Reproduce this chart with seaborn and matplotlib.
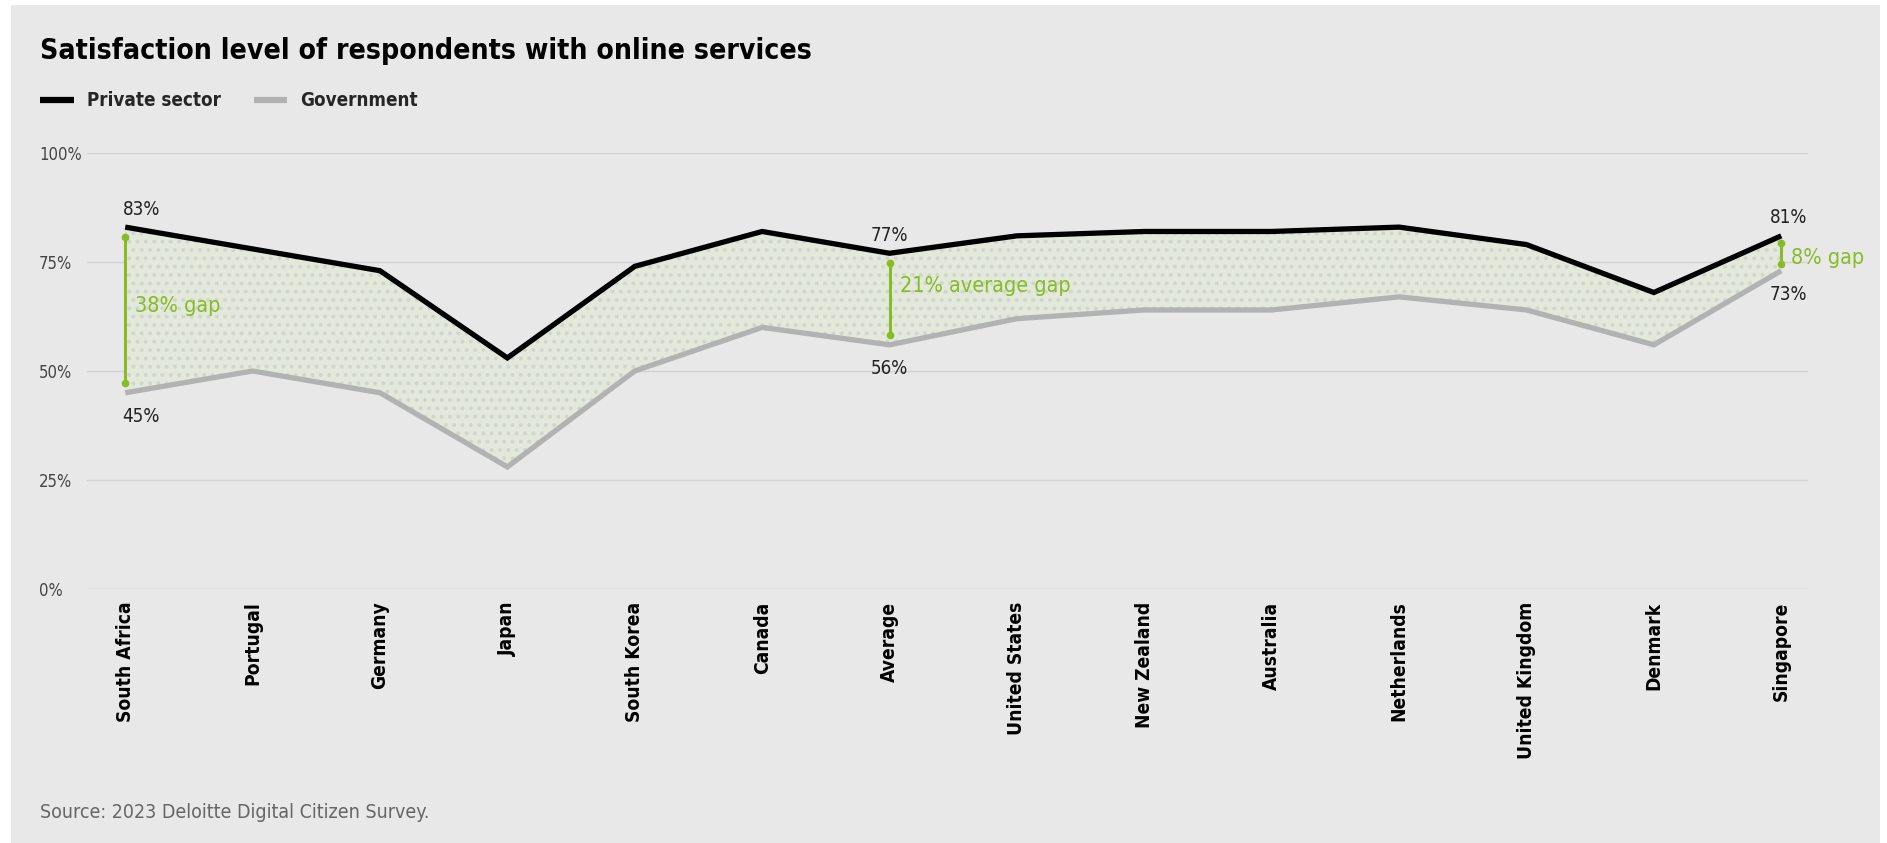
import numpy as np
import pandas as pd
import matplotlib
matplotlib.use("Agg")
import matplotlib.pyplot as plt
from matplotlib import font_manager
from matplotlib.lines import Line2D
from matplotlib.patches import Rectangle
import seaborn as sns

# ---- data -------------------------------------------------------------
countries = ["South Africa", "Portugal", "Germany", "Japan", "South Korea",
             "Canada", "Average", "United States", "New Zealand", "Australia",
             "Netherlands", "United Kingdom", "Denmark", "Singapore"]
private_sector = [83, 78, 73, 53, 74, 82, 77, 81, 82, 82, 83, 79, 68, 81]
government = [45, 50, 45, 28, 50, 60, 56, 62, 64, 64, 67, 64, 56, 73]
y_ticks = [0, 25, 50, 75, 100]
y_tick_labels = ["0%", "25%", "50%", "75%", "100%"]
# gap callouts: (category, text)
gap_notes = [("South Africa", "38% gap"), ("Average", "21% average gap"),
             ("Singapore", "8% gap")]
# endpoint value labels: (category, series)
value_notes = [("South Africa", "private"), ("South Africa", "gov"),
               ("Average", "private"), ("Average", "gov"),
               ("Singapore", "private"), ("Singapore", "gov")]

# ---- style -------------------------------------------------------------
sns.set_theme(style="white")
available = {f.name for f in font_manager.fontManager.ttflist}
narrow = "Liberation Sans Narrow" if "Liberation Sans Narrow" in available else "DejaVu Sans"
plt.rcParams["font.family"] = [narrow, "DejaVu Sans"]
plt.rcParams["font.stretch"] = "condensed"
plt.rcParams["hatch.linewidth"] = 1.6
plt.rcParams["hatch.color"] = "#d2d4cf"

BG = "#e8e8e8"
BLACK = "#000000"
GREY = "#b2b2b2"
GREEN = "#86bc25"
TEXT = "#222222"

W, H = 1887, 843
fig = plt.figure(figsize=(W / 100, H / 100), dpi=100, facecolor="white")
fig.patches.append(Rectangle((11 / W, 0), (1880 - 11) / W, 1 - 5 / H,
                             transform=fig.transFigure, facecolor=BG,
                             edgecolor="none", zorder=-10))

ax = fig.add_axes([87 / W, 1 - 589 / H, (1808 - 87) / W, (589 - 153) / H])
ax.set_facecolor("none")

x = np.arange(len(countries))
df = pd.DataFrame({
    "x": np.concatenate([x, x]),
    "value": private_sector + government,
    "series": ["Private sector"] * len(x) + ["Government"] * len(x),
})

ax.fill_between(x, government, private_sector, facecolor="#e2e9da",
                hatch="..", edgecolor="#d2d4cf", linewidth=0, zorder=1)

sns.lineplot(data=df, x="x", y="value", hue="series",
             palette={"Private sector": BLACK, "Government": GREY},
             linewidth=3.8, ax=ax, legend=False, zorder=3, sort=False)
for ln in ax.get_lines():
    ln.set_solid_joinstyle("miter")
    ln.set_solid_capstyle("butt")

# ---- axes -------------------------------------------------------------
ax.set_xlim(-0.3, len(countries) - 1 + 0.21)
ax.set_ylim(0, 100)
ax.set_yticks(y_ticks)
ax.set_yticklabels(y_tick_labels)
ax.set_xticks(x)
ax.set_xticklabels(countries, rotation=90, va="top", ha="center",
                   fontsize=13.8, fontweight="bold", color=BLACK)
ax.tick_params(axis="x", length=0, pad=9)
ax.tick_params(axis="y", length=0, pad=34.5, labelsize=12, labelcolor="#444444")
for lab in ax.get_yticklabels():
    lab.set_horizontalalignment("left")
ax.grid(axis="y", color="#d2d2d2", linewidth=1)
ax.grid(axis="x", visible=False)
ax.set_xlabel("")
ax.set_ylabel("")
for s in ax.spines.values():
    s.set_visible(False)

# ---- annotations ------------------------------------------------------
idx = {c: i for i, c in enumerate(countries)}
gap_text_pos = {"South Africa": (0.08, 65), "Average": (6.08, 69.5),
                "Singapore": (13.08, 76)}
for cat, txt in gap_notes:
    i = idx[cat]
    top, bot = private_sector[i], government[i]
    inset = 2.3 if (top - bot) > 12 else 1.6
    ax.plot([i, i], [top - inset, bot + inset], color=GREEN, linewidth=2.2,
            marker="o", markersize=4.5, zorder=4, solid_capstyle="butt")
    tx, ty = gap_text_pos[cat]
    ax.text(tx, ty, txt, color=GREEN, fontsize=15.5, va="center", ha="left",
            zorder=5)

for cat, which in value_notes:
    i = idx[cat]
    v = private_sector[i] if which == "private" else government[i]
    dy = 13 if which == "private" else -17
    if cat == "South Africa":
        ha, dx = "left", -2
    elif cat == "Singapore":
        ha, dx = "center", 5
    else:
        ha, dx = "center", 0
    ax.annotate(f"{v}%", (i, v), xytext=(dx, dy), textcoords="offset points",
                ha=ha, va="center", fontsize=13.5, color=TEXT, zorder=5)

# ---- title, legend, source -------------------------------------------
fig.text(40 / W, 1 - 51 / H, "Satisfaction level of respondents with online services",
         fontsize=20.3, fontweight="heavy", color=BLACK, va="center", ha="left",
         family=["DejaVu Sans"], stretch="condensed")

handles = [Line2D([], [], color=BLACK, linewidth=4.5, solid_capstyle="butt"),
           Line2D([], [], color=GREY, linewidth=4.5, solid_capstyle="butt")]
fig.legend(handles, ["Private sector", "Government"], loc="center left",
           bbox_to_anchor=(40 / W, 1 - 101 / H), ncol=2, frameon=False,
           borderpad=0, borderaxespad=0, handlelength=1.8, handletextpad=0.7,
           columnspacing=1.75, prop={"size": 13.5, "weight": "bold"})

fig.text(40 / W, 1 - 812 / H, "Source: 2023 Deloitte Digital Citizen Survey.",
         fontsize=14, color="#666666", va="center", ha="left")

fig.savefig("out.png", dpi=100, facecolor="white")
